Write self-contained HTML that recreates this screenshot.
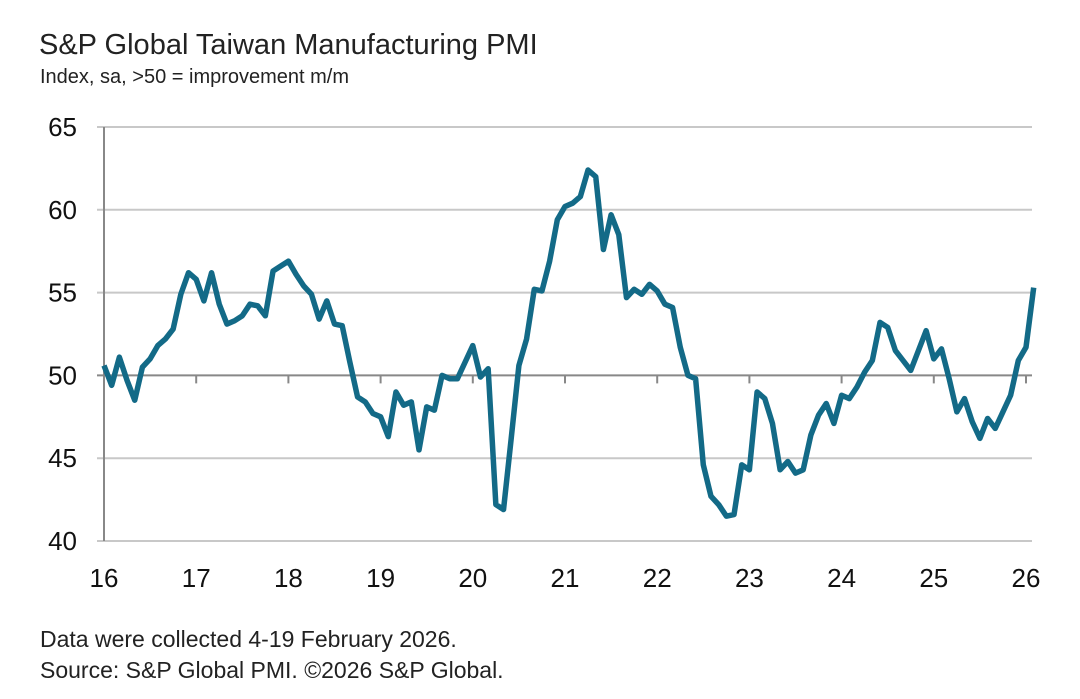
<!DOCTYPE html>
<html><head><meta charset="utf-8"><style>
body{margin:0;background:#fff;width:1080px;height:699px;overflow:hidden;font-family:"Liberation Sans",sans-serif;}
.t{position:absolute;color:#222;white-space:nowrap;line-height:1}
</style></head><body>
<div class="t" style="left:39px;top:31px;font-size:29px;">S&amp;P Global Taiwan Manufacturing PMI</div>
<div class="t" style="left:40px;top:67px;font-size:20px;">Index, sa, &gt;50 = improvement m/m</div>
<svg id="c" width="1080" height="699" style="position:absolute;left:0;top:0"></svg>
<div class="t" style="left:40px;top:628px;font-size:23px;">Data were collected 4-19 February 2026.</div>
<div class="t" style="left:40px;top:659px;font-size:23px;">Source: S&amp;P Global PMI. ©2026 S&amp;P Global.</div>
<script>
const yTicks=[40,45,50,55,60,65];
const xLabels=["16","17","18","19","20","21","22","23","24","25","26"];
const pmi=[50.6,49.4,51.1,49.7,48.5,50.5,51.0,51.8,52.2,52.8,54.9,56.2,
55.8,54.5,56.2,54.3,53.1,53.3,53.6,54.3,54.2,53.6,56.3,56.6,
56.9,56.1,55.4,54.9,53.4,54.5,53.1,53.0,50.8,48.7,48.4,47.7,
47.5,46.3,49.0,48.2,48.4,45.5,48.1,47.9,50.0,49.8,49.8,50.8,
51.8,49.9,50.4,42.2,41.9,46.2,50.6,52.2,55.2,55.1,56.9,59.4,
60.2,60.4,60.8,62.4,62.0,57.6,59.7,58.5,54.7,55.2,54.9,55.5,
55.1,54.3,54.1,51.7,50.0,49.8,44.6,42.7,42.2,41.5,41.6,44.6,
44.3,49.0,48.6,47.1,44.3,44.8,44.1,44.3,46.4,47.6,48.3,47.1,
48.8,48.6,49.3,50.2,50.9,53.2,52.9,51.5,50.9,50.3,51.5,52.7,
51.0,51.6,49.8,47.8,48.6,47.2,46.2,47.4,46.8,47.8,48.8,50.9,
51.7,55.3];
const svg=document.getElementById('c');const NS='http://www.w3.org/2000/svg';
const X0=104,YW=92.2,Y40=541,Y65=127;
const x=m=>X0+m*YW/12;
const y=v=>Y40-(v-40)*(Y40-Y65)/25;
function mk(t,a){const e=document.createElementNS(NS,t);for(const k in a)e.setAttribute(k,a[k]);svg.appendChild(e);return e;}
yTicks.forEach(v=>{
 const g=mk('line',{x1:97,x2:1032,y1:y(v),y2:y(v),stroke:v===50?'#888':'#c8c8c8','stroke-width':2});
 
 
 const t=mk('text',{x:77,y:y(v)+9,'text-anchor':'end','font-size':26,fill:'#111','font-family':'Liberation Sans, sans-serif'});
 t.textContent=v;
 
 
});
const ax=mk('line',{x1:104,x2:104,y1:127,y2:541,stroke:'#888','stroke-width':2});


xLabels.forEach((s,i)=>{
 const tk=mk('line',{x1:x(i*12),x2:x(i*12),y1:y(50),y2:y(50)+8,stroke:'#888','stroke-width':2});
 
 
 const t=mk('text',{x:x(i*12),y:587,'text-anchor':'middle','font-size':26,fill:'#111','font-family':'Liberation Sans, sans-serif'});
 t.textContent=s;
 
 
});
const p=mk('polyline',{points:pmi.map((v,i)=>x(i)+','+y(v)).join(' '),fill:'none',stroke:'#136a87','stroke-width':5.5,'stroke-linejoin':'round'});


</script>
</body></html>
